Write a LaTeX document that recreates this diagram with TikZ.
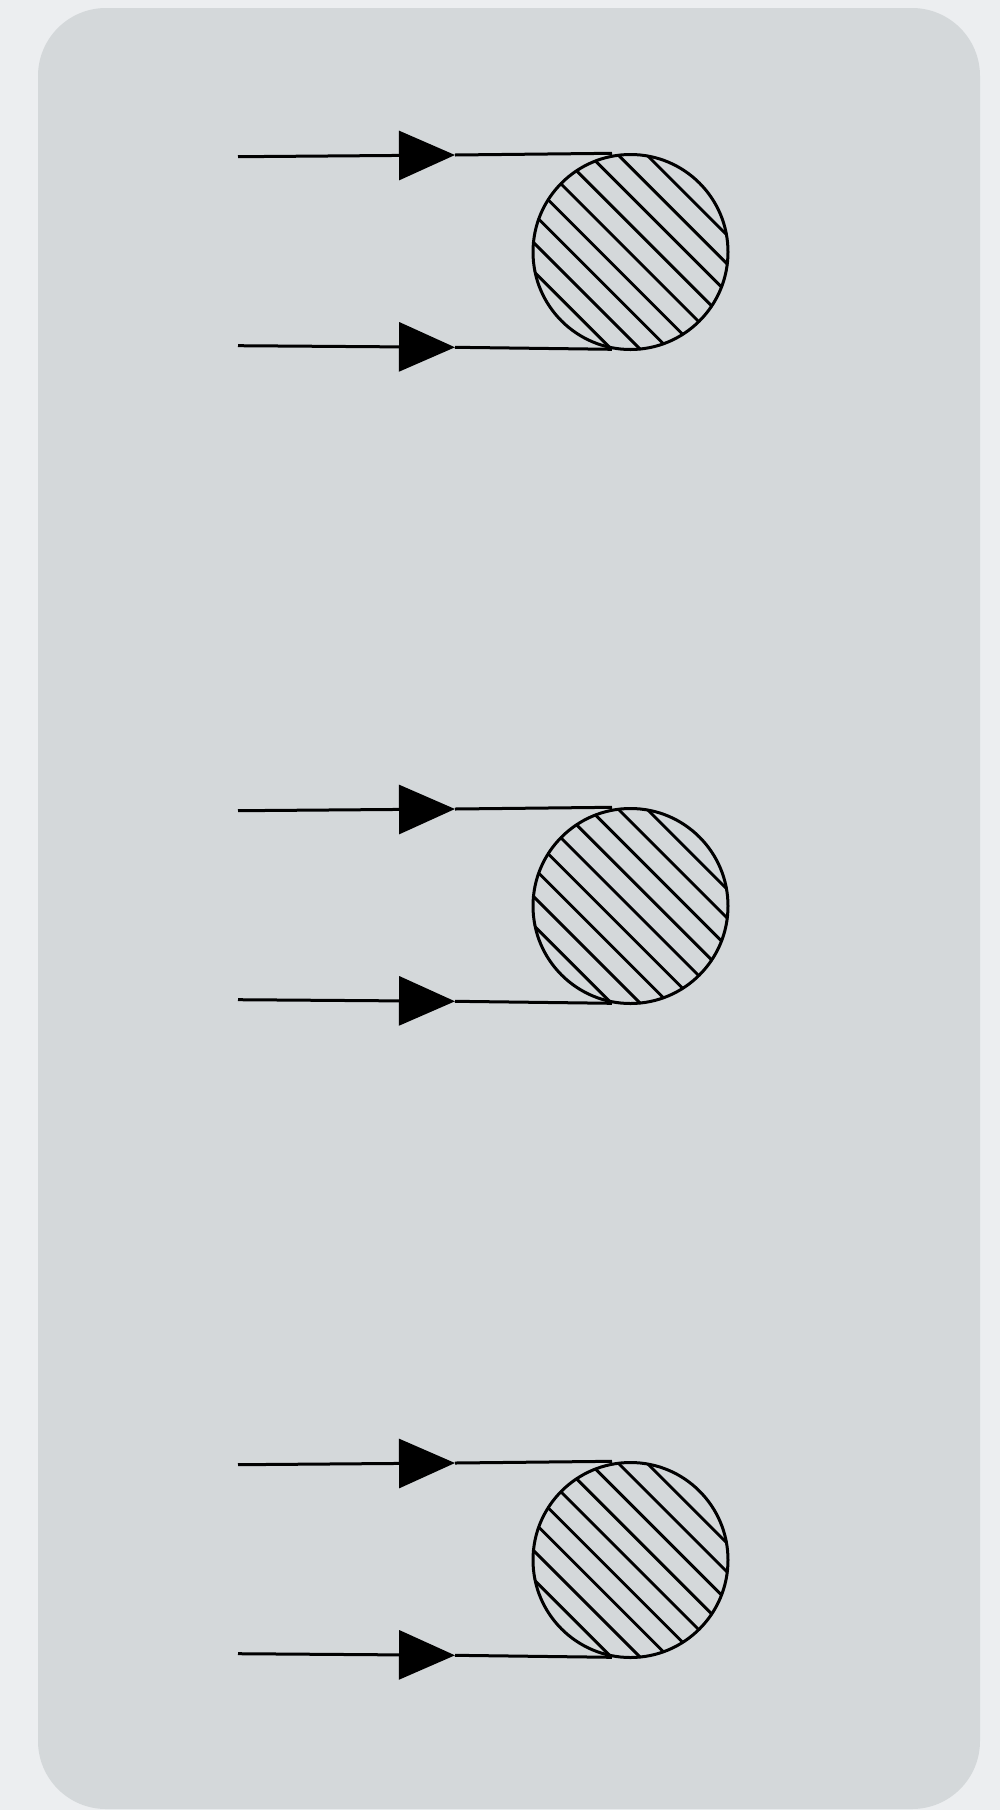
\documentclass[tikz,border=0pt]{standalone}
\usepackage{xcolor}
\usepackage{tikz}
\usetikzlibrary{positioning, arrows.meta, calc}

\definecolor{outerbg}{RGB}{236,238,240}
\definecolor{panelbg}{RGB}{212,216,218}

\begin{document}
\begin{tikzpicture}[
    x=0.5pt, y=-0.5pt,
    panel/.style={
      fill=panelbg,
      rounded corners=34pt
    },
    ball/.style={
      draw,
      circle,
      line width=1.5pt,
      minimum size=97.5pt,
      inner sep=0pt
    },
    beam/.style={
      line width=1.5pt
    },
    arrow/.style={
      line width=1.5pt,
      -{Triangle[length=28pt, width=24.5pt]}
    },
    hatch/.style={
      line width=1.45pt
    }
  ]

  \useasboundingbox (0,0) rectangle (1000,1810);
  \fill[outerbg] (0,0) rectangle (1000,1810);
  \fill[panel] (38,8) rectangle (980,1809);

  \foreach \i/\dy in {1/0, 2/654, 3/1308} {
    \node[ball] (c\i) at (630.5,252+\dy) {};

    \begin{scope}
      \clip (c\i.center) circle [radius=49.25pt];
      \foreach \k in {-4,...,4} {
        \pgfmathsetmacro\d{20.3*\k-1}
        \draw[hatch]
          ($(c\i.center)+({0.707*\d-0.707*120},{-0.707*\d-0.707*120})$) --
          ($(c\i.center)+({0.707*\d+0.707*120},{-0.707*\d+0.707*120})$);
      }
    \end{scope}

    \coordinate (in\i) at (238,156.7+\dy);
    \coordinate (tip\i) at (455,155+\dy);
    \coordinate (top\i) at (612,153.3+\dy);
    \draw[arrow] (in\i) -- (tip\i);
    \draw[beam] (tip\i) -- (top\i);

    \coordinate (lo\i) at (238,345.7+\dy);
    \coordinate (lotip\i) at (455,347.3+\dy);
    \coordinate (bot\i) at (612,349.3+\dy);
    \draw[arrow] (lo\i) -- (lotip\i);
    \draw[beam] (lotip\i) -- (bot\i);
  }

\end{tikzpicture}
\end{document}
